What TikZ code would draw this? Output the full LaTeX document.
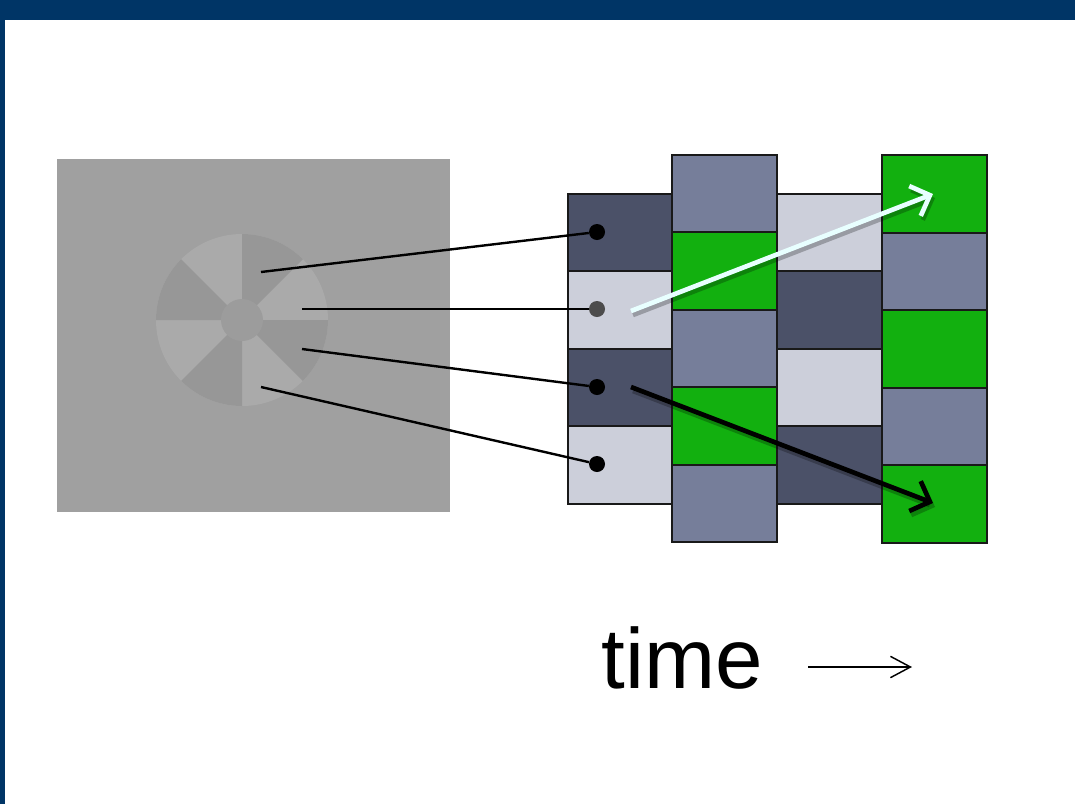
\documentclass[tikz,border=0pt]{standalone}
\usepackage{fontspec}
\setmainfont{Liberation Sans}
\usetikzlibrary{arrows.meta}

\definecolor{slideblue}{RGB}{0,53,102}
\definecolor{imggray}{RGB}{160,160,160}
\definecolor{sectlight}{RGB}{170,170,170}
\definecolor{sectdark}{RGB}{151,151,151}
\definecolor{hubgray}{RGB}{156,156,156}
\definecolor{celldark}{RGB}{75,81,104}
\definecolor{celllight}{RGB}{204,207,218}
\definecolor{cellmid}{RGB}{118,126,154}
\definecolor{cellgreen}{RGB}{18,176,15}
\definecolor{arrowwhite}{RGB}{232,255,255}

\tikzset{
  cell/.style={draw=black!90, line width=1.5pt},
  probe/.style={circle, fill=black, inner sep=0pt, minimum size=12pt},
  ray/.style={line width=1.8pt},
  move/.style={line width=3.5pt, -{Straight Barb[length=12pt,width=24pt]}},
}

\begin{document}
\begin{tikzpicture}[x=0.75pt, y=-0.75pt]
  \useasboundingbox (0,0) rectangle (1075,804);
  \fill[white] (0,0) rectangle (1075,804);
  \fill[slideblue] (0,0) rectangle (1075,20);
  \fill[slideblue] (0,0) rectangle (5,804);
  %
  % stimulus frame with the rotating wheel
  \fill[imggray] (57,159) rectangle (450,512);
  \fill[sectlight] (242,320) circle (86);
  \foreach \a in {0,90,180,270}
    \fill[sectdark] (242,320) -- plot[domain=\a:\a+45, samples=16] ({242+86*cos(\x)},{320+86*sin(\x)}) -- cycle;
  \fill[hubgray] (242,320) circle (21);
  %
  % receptor columns
  \foreach \c [count=\i] in {celldark,celllight,celldark,celllight}
    \filldraw[cell, fill=\c] (568,{193.5+(\i-1)*77.5}) rectangle ++(104,77.5);
  \foreach \c [count=\i] in {celllight,celldark,celllight,celldark}
    \filldraw[cell, fill=\c] (777,{193.5+(\i-1)*77.5}) rectangle ++(105,77.5);
  \foreach \c [count=\i] in {cellmid,cellgreen,cellmid,cellgreen,cellmid}
    \filldraw[cell, fill=\c] (672,{154.5+(\i-1)*77.5}) rectangle ++(105,77.5);
  \foreach \c [count=\i] in {cellgreen,cellmid,cellgreen,cellmid,cellgreen}
    \filldraw[cell, fill=\c] (882,{155+(\i-1)*77.5}) rectangle ++(105,77.5);
  %
  \coordinate (p1) at (261,272);
  \coordinate (p2) at (302,309);
  \coordinate (p3) at (302,349);
  \coordinate (p4) at (261,387);
  \node[probe] (d1) at (597,232) {};
  \node[probe, fill=black!70] (d2) at (597,309) {};
  \node[probe] (d3) at (597,387) {};
  \node[probe] (d4) at (597,464) {};
  \draw[ray] (p1) -- (d1);
  \draw[ray] (p2) -- (d2);
  \draw[ray] (p3) -- (d3);
  \draw[ray] (p4) -- (d4);
  %
  \coordinate (w0) at (631,311);
  \coordinate (w1) at (933,194);
  \coordinate (b0) at (631,387);
  \coordinate (b1) at (933,503);
  \draw[move, black, opacity=0.25] ([shift={(2,4)}]w0) -- ([shift={(2,4)}]w1);
  \draw[move, arrowwhite] (w0) -- (w1);
  \draw[move, black, opacity=0.25] ([shift={(2,4)}]b0) -- ([shift={(2,4)}]b1);
  \draw[move, black] (b0) -- (b1);
  %
  \node[font=\fontsize{64}{70}\selectfont, anchor=base, inner sep=0pt] (time) at (682,688) {time};
  \coordinate (t0) at (808,667);
  \coordinate (t1) at (912,667);
  \draw[line width=1.1pt, -{Straight Barb[length=15pt,width=16pt]}] (t0) -- (t1);
\end{tikzpicture}
\end{document}
